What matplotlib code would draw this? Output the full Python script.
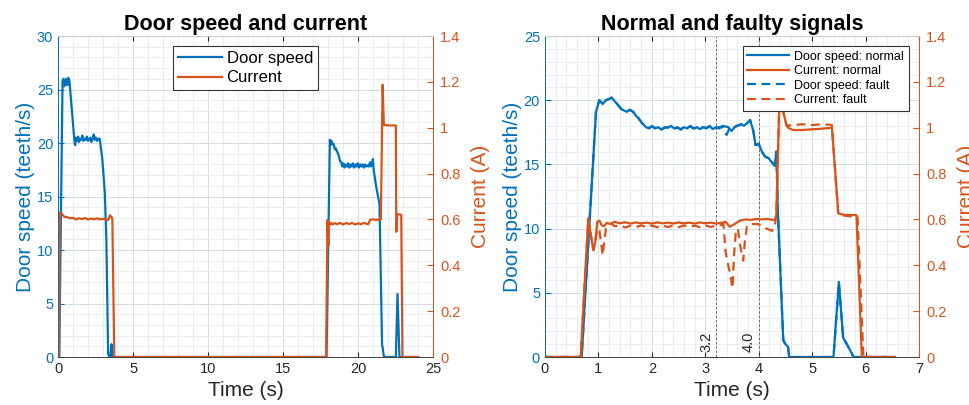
import matplotlib
matplotlib.use("Agg")
import matplotlib.pyplot as plt
from matplotlib.ticker import MultipleLocator

plt.rcParams['font.family'] = ['Liberation Sans', 'DejaVu Sans']

BLUE = '#0072BD'
ORANGE = '#D95319'

# ---------------- Left chart data ----------------
left_speed_t = [0, 0.08, 0.30, 0.36, 0.42, 0.48, 0.55, 0.62, 0.68, 0.76, 1.08, 1.14, 1.20, 1.28, 1.34,
                1.40, 1.48, 1.55, 1.62, 1.70, 1.78, 1.85, 1.92, 2.00, 2.08, 2.15, 2.22, 2.30, 2.38,
                2.45, 2.52, 2.60, 2.68, 2.78, 2.95, 3.12, 3.22, 3.34, 3.42, 3.50, 3.56, 3.62,
                17.90, 18.12, 18.18, 18.24, 18.30, 18.38, 18.45, 18.52, 18.60, 18.70, 18.80, 18.88,
                18.95, 19.02, 19.10, 19.18, 19.26, 19.34, 19.42, 19.50, 19.58, 19.66, 19.74, 19.82,
                19.90, 19.98, 20.06, 20.14, 20.22, 20.30, 20.38, 20.46, 20.54, 20.62, 20.70, 20.80,
                20.86, 20.92, 20.99, 21.05, 21.20, 21.43, 21.60, 21.73, 22.52, 22.63, 22.76, 24.0]
left_speed_v = [0, 0, 25.8, 26.0, 25.3, 25.9, 26.0, 25.4, 26.1, 25.8, 20.4, 19.8, 20.5, 20.2, 20.6,
                20.1, 20.4, 20.3, 20.7, 20.2, 20.4, 20.3, 20.6, 20.2, 20.4, 20.5, 20.1, 20.4, 20.8,
                20.3, 20.5, 20.2, 20.4, 20.4, 18.5, 15.3, 11.0, 0.3, 0.0, 0.2, 1.2, 0.0,
                0, 20.3, 19.8, 20.2, 19.9, 19.9, 19.4, 19.5, 19.2, 18.9, 18.3, 18.2,
                17.8, 18.1, 17.7, 18.0, 17.8, 18.1, 17.7, 18.0, 17.8, 18.1, 17.7, 18.0,
                17.8, 18.1, 17.7, 18.0, 17.8, 18.0, 17.7, 18.0, 17.8, 17.9, 17.8, 18.2,
                17.8, 18.0, 18.5, 17.4, 16.0, 14.3, 1.2, 0, 0, 5.9, 0, 0]

left_cur_t = [0, 0.07, 0.12, 0.25, 0.40, 0.60, 0.80, 1.00, 1.20, 1.40, 1.60, 1.80, 2.00, 2.20, 2.40,
              2.60, 2.80, 3.00, 3.20, 3.35, 3.45, 3.58, 3.62, 3.75,
              17.87, 17.96, 18.02, 18.06, 18.10, 18.20, 18.30, 18.45, 18.60, 18.80, 19.00, 19.20,
              19.40, 19.60, 19.80, 20.00, 20.20, 20.40, 20.60, 20.69, 20.80, 21.00, 21.20, 21.43,
              21.52, 21.64, 21.72, 22.00, 22.52, 22.55, 22.62, 22.88, 22.96, 24.0]
left_cur_v = [0, 0, 0.63, 0.625, 0.612, 0.61, 0.605, 0.607, 0.600, 0.605, 0.602, 0.606, 0.600, 0.604,
              0.601, 0.605, 0.600, 0.603, 0.600, 0.598, 0.618, 0.610, 0.600, 0,
              0, 0.597, 0.488, 0.590, 0.575, 0.585, 0.578, 0.584, 0.579, 0.585, 0.578, 0.584,
              0.580, 0.585, 0.578, 0.583, 0.579, 0.585, 0.580, 0.580, 0.598, 0.600, 0.598, 0.600,
              0.600, 1.187, 1.012, 1.010, 1.010, 0.546, 0.623, 0.620, 0, 0]

# ---------------- Right chart data ----------------
speed_normal_t = [0, 0.687, 0.955, 1.017, 1.08, 1.14, 1.20, 1.248, 1.31, 1.372, 1.43, 1.48, 1.53, 1.59,
                  1.65, 1.70, 1.75, 1.81, 1.89, 1.95, 2.00, 2.06, 2.12, 2.18, 2.24, 2.30, 2.36, 2.42,
                  2.48, 2.54, 2.60, 2.66, 2.72, 2.78, 2.84, 2.90, 2.96, 3.02, 3.08, 3.14, 3.20, 3.26,
                  3.32, 3.38, 3.43, 3.49, 3.55, 3.58, 3.62, 3.67, 3.72, 3.78, 3.84, 3.90, 3.94, 4.00,
                  4.06, 4.12, 4.18, 4.24, 4.30, 4.33, 4.36, 4.46, 4.50, 4.55, 4.57, 5.40, 5.50, 5.58,
                  5.65, 5.74, 5.77, 6.55]
speed_normal_v = [0, 0, 19.1, 20.0, 19.7, 20.0, 20.1, 20.2, 19.9, 19.6, 19.3, 19.2, 19.1, 19.25,
                  19.1, 18.8, 18.6, 18.25, 17.9, 17.8, 18.0, 17.8, 17.9, 17.7, 17.9, 17.85, 18.0, 17.8,
                  17.9, 17.7, 17.9, 17.8, 18.0, 17.8, 17.9, 17.75, 17.9, 17.8, 18.0, 17.75, 17.9, 17.8,
                  18.0, 17.95, 17.9, 17.6, 17.9, 18.0, 18.05, 18.15, 18.0, 18.2, 18.45, 17.6, 16.5, 16.6,
                  16.0, 15.6, 15.5, 15.2, 14.9, 16.0, 11.2, 1.3, 1.0, 0.8, 0, 0, 5.85, 1.5,
                  1.0, 0.3, 0, 0]

speed_fault_t = [0, 0.687, 0.955, 1.017, 1.08, 1.14, 1.20, 1.248, 1.31, 1.372, 1.43, 1.48, 1.53, 1.59,
                 1.65, 1.70, 1.75, 1.81, 1.89, 1.95, 2.00, 2.06, 2.12, 2.18, 2.24, 2.30, 2.36, 2.42,
                 2.48, 2.54, 2.60, 2.66, 2.72, 2.78, 2.84, 2.90, 2.96, 3.02, 3.08, 3.14, 3.20, 3.26,
                 3.32, 3.36, 3.40, 3.45, 3.50, 3.55, 3.60, 3.67, 3.72, 3.78, 3.84, 3.90, 3.94, 4.00,
                 4.06, 4.12, 4.18, 4.24, 4.30, 4.33, 4.36, 4.46, 4.50, 4.55, 4.57, 5.40, 5.50, 5.58,
                 5.65, 5.74, 5.77, 6.55]
speed_fault_v = [0, 0, 19.1, 20.0, 19.7, 20.0, 20.1, 20.2, 19.9, 19.6, 19.3, 19.2, 19.1, 19.25,
                 19.1, 18.8, 18.6, 18.25, 17.9, 17.85, 17.95, 17.85, 17.9, 17.75, 17.85, 17.9, 17.95, 17.8,
                 17.85, 17.75, 17.9, 17.85, 17.95, 17.8, 17.85, 17.8, 17.9, 17.85, 17.95, 17.8, 17.85, 17.9,
                 17.9, 17.5, 17.3, 17.8, 17.7, 17.9, 18.0, 18.1, 18.0, 18.2, 18.45, 17.6, 16.5, 16.6,
                 16.0, 15.6, 15.5, 15.2, 14.9, 16.0, 11.2, 1.3, 1.0, 0.8, 0, 0, 5.85, 1.5,
                 1.0, 0.3, 0, 0]

cur_normal_t = [0, 0.668, 0.81, 0.86, 0.905, 0.94, 0.98, 1.02, 1.06, 1.10, 1.16, 1.22, 1.30, 1.40,
                1.50, 1.60, 1.70, 1.80, 1.90, 2.00, 2.10, 2.20, 2.30, 2.40, 2.50, 2.60, 2.70, 2.80,
                2.90, 3.00, 3.10, 3.20, 3.30, 3.38, 3.46, 3.55, 3.65, 3.75, 3.85, 3.95, 4.05, 4.15,
                4.25, 4.30, 4.33, 4.38, 4.43, 4.46, 4.52, 4.55, 4.64, 4.80, 5.00, 5.20, 5.37, 5.49,
                5.60, 5.83, 5.93, 6.55]
cur_normal_v = [0, 0, 0.604, 0.53, 0.466, 0.50, 0.59, 0.595, 0.575, 0.570, 0.585, 0.580, 0.590, 0.583,
                0.588, 0.582, 0.587, 0.583, 0.586, 0.582, 0.587, 0.583, 0.586, 0.582, 0.587, 0.583,
                0.586, 0.582, 0.587, 0.583, 0.586, 0.582, 0.585, 0.590, 0.568, 0.580, 0.595, 0.600,
                0.598, 0.602, 0.600, 0.602, 0.599, 0.597, 0.62, 1.06, 1.18, 1.07, 1.01, 1.00, 0.990,
                0.990, 0.993, 0.996, 1.000, 0.626, 0.620, 0.619, 0, 0]

cur_fault_t = [0, 0.668, 0.81, 0.86, 0.905, 0.94, 0.98, 1.02, 1.06, 1.08, 1.14, 1.24, 1.30, 1.40,
               1.50, 1.60, 1.70, 1.80, 1.90, 2.00, 2.10, 2.20, 2.30, 2.40, 2.50, 2.60, 2.70, 2.80,
               2.90, 3.00, 3.10, 3.20, 3.30, 3.34, 3.38, 3.42, 3.46, 3.51, 3.54, 3.57, 3.61, 3.65,
               3.71, 3.74, 3.78, 3.85, 3.99, 4.05, 4.15, 4.25, 4.30, 4.33, 4.38, 4.43, 4.46, 4.52,
               4.60, 4.80, 5.00, 5.20, 5.37, 5.49, 5.85, 5.96, 6.55]
cur_fault_v = [0, 0, 0.604, 0.53, 0.466, 0.50, 0.56, 0.55, 0.48, 0.444, 0.56, 0.583, 0.570, 0.575,
               0.565, 0.572, 0.566, 0.574, 0.567, 0.573, 0.566, 0.574, 0.567, 0.573, 0.566, 0.574,
               0.567, 0.573, 0.566, 0.574, 0.567, 0.573, 0.575, 0.580, 0.46, 0.41, 0.37, 0.30, 0.45,
               0.54, 0.56, 0.49, 0.42, 0.50, 0.57, 0.58, 0.58, 0.57, 0.56, 0.55, 0.57, 0.62, 1.06,
               1.18, 1.07, 1.01, 1.010, 1.015, 1.012, 1.015, 1.012, 0.620, 0.610, 0, 0]

fault_marks = [3.2, 4.0]
fault_labels = ['3.2', '4.0']

# ---------------- Figure ----------------
fig = plt.figure(figsize=(9.69, 4.05), dpi=100)

GRID_MAJ = '#d3dce6'
GRID_MIN = '#e8eef4'


def style_axes(ax, ax2, xmax, xmajor, xminor, ymax, ymajor, yminor, cmax):
    ax.set_xlim(0, xmax)
    ax.set_ylim(0, ymax)
    ax2.set_ylim(0, cmax)
    ax.xaxis.set_major_locator(MultipleLocator(xmajor))
    ax.xaxis.set_minor_locator(MultipleLocator(xminor))
    ax.yaxis.set_major_locator(MultipleLocator(ymajor))
    ax.yaxis.set_minor_locator(MultipleLocator(yminor))
    ax2.yaxis.set_major_locator(MultipleLocator(0.2))
    ax2.yaxis.set_minor_locator(plt.NullLocator())
    ax.grid(True, which='major', color=GRID_MAJ, lw=0.7)
    ax.grid(True, which='minor', color=GRID_MIN, lw=0.7)
    ax.set_axisbelow(True)
    ax.tick_params(axis='x', which='both', direction='in', top=True, labelsize=10.5, colors='#262626')
    ax.tick_params(axis='x', which='minor', length=0)
    ax.tick_params(axis='y', which='major', direction='in', colors=BLUE, labelsize=10.5, length=4)
    ax.tick_params(axis='y', which='minor', length=0)
    ax2.tick_params(axis='y', which='major', direction='in', colors=ORANGE, labelsize=10.5, length=4,
                    pad=5)
    for a in (ax, ax2):
        a.spines['left'].set_color(BLUE)
        a.spines['right'].set_color(ORANGE)
        a.spines['top'].set_color('#cccccc')
        a.spines['bottom'].set_color('#444444')
        for s in a.spines.values():
            s.set_linewidth(0.7)
    ax.set_xlabel('Time (s)', fontsize=15, color='#262626', labelpad=4)
    ax.set_ylabel('Door speed (teeth/s)', fontsize=15, color=BLUE, labelpad=1)
    ax2.set_ylabel('Current (A)', fontsize=15, color=ORANGE, labelpad=8)


def fmt_cur(v, pos):
    s = f'{v:.1f}'
    if s.endswith('.0'):
        s = s[:-2]
    return s

# Left chart
axL = fig.add_axes([0.0599, 0.1185, 0.3870, 0.7926])
axL2 = axL.twinx()
style_axes(axL, axL2, 25, 5, 1, 30, 5, 1, 1.4)
axL2.yaxis.set_major_formatter(plt.FuncFormatter(fmt_cur))
hL1, = axL.plot(left_speed_t, left_speed_v, color=BLUE, lw=1.6, label='Door speed')
hL2, = axL2.plot(left_cur_t, left_cur_v, color=ORANGE, lw=1.6, label='Current')
axL.set_title('Door speed and current', fontsize=15.5, fontweight='bold', pad=4)
legL = axL2.legend(handles=[hL1, hL2], loc='upper center', bbox_to_anchor=(0.5, 0.968),
                   fontsize=12, fancybox=False, framealpha=1, edgecolor='#333333',
                   borderaxespad=0, handlelength=2.6, handletextpad=0.3, borderpad=0.3,
                   labelspacing=0.25)
legL.get_frame().set_linewidth(0.8)

# Right chart
axR = fig.add_axes([0.5624, 0.1185, 0.3860, 0.7926])
axR2 = axR.twinx()
style_axes(axR, axR2, 7, 1, 0.2, 25, 5, 1, 1.4)
axR2.yaxis.set_major_formatter(plt.FuncFormatter(fmt_cur))
for xm, lab in zip(fault_marks, fault_labels):
    axR.axvline(xm, color='#666666', lw=0.7, ls=(0, (2.5, 2)), zorder=1.5)
    axR.text(xm - 0.05, 0.4, lab, rotation=90, ha='right', va='bottom', fontsize=10.5,
             color='#262626', zorder=1.6)
hR1, = axR.plot(speed_normal_t, speed_normal_v, color=BLUE, lw=1.6, label='Door speed: normal')
hR3, = axR.plot(speed_fault_t, speed_fault_v, color=BLUE, lw=1.6, ls=(0, (4, 2.5)),
                label='Door speed: fault')
hR2, = axR2.plot(cur_normal_t, cur_normal_v, color=ORANGE, lw=1.6, label='Current: normal')
hR4, = axR2.plot(cur_fault_t, cur_fault_v, color=ORANGE, lw=1.6, ls=(0, (4, 2.5)),
                 label='Current: fault')
axR.set_title('Normal and faulty signals', fontsize=15.5, fontweight='bold', pad=4)
legR = axR2.legend(handles=[hR1, hR2, hR3, hR4], loc='upper right', bbox_to_anchor=(0.972, 0.968),
                   fontsize=9, fancybox=False, framealpha=1, edgecolor='#333333',
                   borderaxespad=0, handlelength=3.4, handletextpad=0.4, borderpad=0.35,
                   labelspacing=0.2)
legR.get_frame().set_linewidth(0.8)

fig.savefig('out.png', dpi=100)
